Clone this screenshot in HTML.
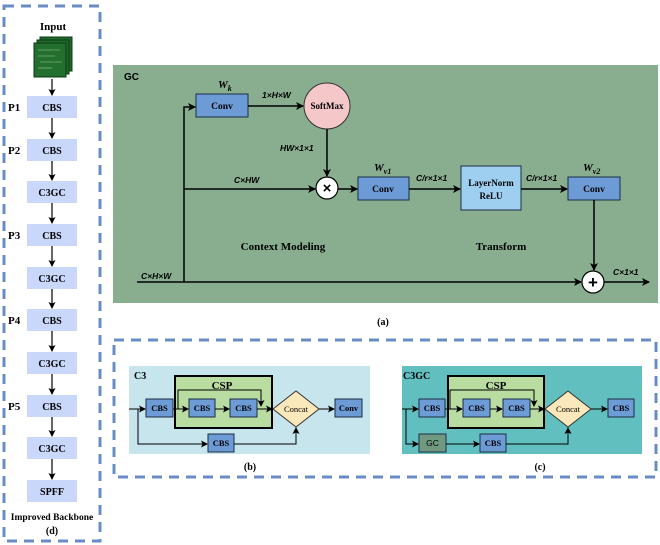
<!DOCTYPE html>
<html><head><meta charset="utf-8"><style>
html,body{margin:0;padding:0;background:#fff;}
svg{display:block;}
.t{font-family:"Liberation Serif",serif;font-weight:bold;}
.s{font-family:"Liberation Sans",sans-serif;font-weight:bold;font-style:italic;}
</style></head><body>
<svg width="660" height="545" viewBox="0 0 660 545" xmlns="http://www.w3.org/2000/svg">
<defs>
<marker id="a" markerWidth="8" markerHeight="8" refX="7" refY="4" orient="auto" markerUnits="userSpaceOnUse"><path d="M0,0 L8,4 L0,8 L2,4 Z" fill="#000"/></marker>
<marker id="b" markerWidth="7" markerHeight="7" refX="6" refY="3.5" orient="auto" markerUnits="userSpaceOnUse"><path d="M0,0 L7,3.5 L0,7 L1.5,3.5 Z" fill="#000"/></marker>
</defs>
<!-- Left backbone -->
<rect x="4" y="6" width="96" height="535" fill="none" stroke="#6a8cc6" stroke-width="3" stroke-dasharray="10,7"/>
<text x="53" y="30" class="t" font-size="11" text-anchor="middle">Input</text>
<rect x="40" y="37" width="32" height="34" fill="#1f6a2a" stroke="#0d3a14"/>
<rect x="37" y="40" width="32" height="34" fill="#1f6a2a" stroke="#0d3a14"/>
<rect x="34" y="43" width="32" height="34" fill="#236f2e" stroke="#0d3a14"/>
<g stroke="#9fd09a" stroke-width="0.6"><line x1="38" y1="50" x2="60" y2="50"/><line x1="38" y1="56" x2="55" y2="56"/><line x1="40" y1="62" x2="62" y2="62"/><line x1="38" y1="68" x2="52" y2="68"/></g>
<g fill="#c9d7fb">
<rect x="27" y="96" width="50" height="22"/><rect x="27" y="139" width="50" height="22"/><rect x="27" y="181" width="50" height="22"/><rect x="27" y="224" width="50" height="22"/><rect x="27" y="267" width="50" height="22"/><rect x="27" y="309" width="50" height="22"/><rect x="27" y="352" width="50" height="22"/><rect x="27" y="395" width="50" height="22"/><rect x="27" y="437" width="50" height="22"/><rect x="27" y="480" width="50" height="22"/>
</g>
<g class="t" font-size="10" text-anchor="middle">
<text x="52" y="111">CBS</text><text x="52" y="154">CBS</text><text x="52" y="196">C3GC</text><text x="52" y="239">CBS</text><text x="52" y="282">C3GC</text><text x="52" y="324">CBS</text><text x="52" y="367">C3GC</text><text x="52" y="410">CBS</text><text x="52" y="452">C3GC</text><text x="52" y="495">SPFF</text>
</g>
<g class="t" font-size="11"><text x="8" y="111">P1</text><text x="8" y="154">P2</text><text x="8" y="239">P3</text><text x="8" y="324">P4</text><text x="8" y="410">P5</text></g>
<g stroke="#000" stroke-width="1.2" marker-end="url(#b)">
<line x1="52" y1="79" x2="52" y2="95"/><line x1="52" y1="118" x2="52" y2="138"/><line x1="52" y1="161" x2="52" y2="180"/><line x1="52" y1="203" x2="52" y2="223"/><line x1="52" y1="246" x2="52" y2="266"/><line x1="52" y1="289" x2="52" y2="308"/><line x1="52" y1="331" x2="52" y2="351"/><line x1="52" y1="374" x2="52" y2="394"/><line x1="52" y1="417" x2="52" y2="436"/><line x1="52" y1="459" x2="52" y2="479"/>
</g>
<text x="52" y="520" class="t" font-size="9.5" text-anchor="middle">Improved Backbone</text>
<text x="52" y="534" class="t" font-size="10" text-anchor="middle">(d)</text>

<!-- GC panel -->
<rect x="113" y="65" width="545" height="238" fill="#88ae8f"/>
<text x="124" y="80" font-family="Liberation Sans,sans-serif" font-weight="bold" font-size="10">GC</text>
<rect x="196" y="94" width="52" height="23" fill="#6d9bd6" stroke="#1d2d44"/>
<text x="222" y="109" class="t" font-size="9.5" text-anchor="middle">Conv</text>
<text x="218" y="88" class="t" font-style="italic" font-size="11">W<tspan font-size="8" dy="3">k</tspan></text>
<circle cx="327" cy="106" r="23" fill="#f4c7c9" stroke="#333"/>
<text x="327" y="109" class="t" font-size="9" text-anchor="middle">SoftMax</text>
<circle cx="327" cy="188" r="11" fill="#fff" stroke="#000" stroke-width="1.2"/>
<text x="327" y="193" font-family="Liberation Sans,sans-serif" font-weight="bold" font-size="15" text-anchor="middle">×</text>
<rect x="358" y="177" width="51" height="23" fill="#6d9bd6" stroke="#1d2d44"/>
<text x="383" y="192" class="t" font-size="9.5" text-anchor="middle">Conv</text>
<text x="374" y="171" class="t" font-style="italic" font-size="11">W<tspan font-size="8" dy="3">v1</tspan></text>
<rect x="461" y="166" width="60" height="44" fill="#9fcff0" stroke="#1d2d44"/>
<text x="491" y="186" class="t" font-size="9" text-anchor="middle">LayerNorm</text>
<text x="491" y="199" class="t" font-size="9" text-anchor="middle">ReLU</text>
<rect x="568" y="177" width="52" height="23" fill="#6d9bd6" stroke="#1d2d44"/>
<text x="594" y="192" class="t" font-size="9.5" text-anchor="middle">Conv</text>
<text x="583" y="171" class="t" font-style="italic" font-size="11">W<tspan font-size="8" dy="3">v2</tspan></text>
<circle cx="593" cy="282" r="11" fill="#fff" stroke="#000" stroke-width="1.2"/>
<text x="593" y="288" font-family="Liberation Sans,sans-serif" font-weight="bold" font-size="17" text-anchor="middle">+</text>
<g stroke="#000" stroke-width="1.5" fill="none">
<polyline points="184,282 184,107 195,107" marker-end="url(#a)"/>
<line x1="248" y1="106" x2="303" y2="106" marker-end="url(#a)"/>
<line x1="327" y1="129" x2="327" y2="176" marker-end="url(#a)"/>
<line x1="184" y1="189" x2="315" y2="189" marker-end="url(#a)"/>
<line x1="338" y1="189" x2="357" y2="189" marker-end="url(#a)"/>
<line x1="409" y1="189" x2="460" y2="189" marker-end="url(#a)"/>
<line x1="521" y1="189" x2="567" y2="189" marker-end="url(#a)"/>
<line x1="594" y1="200" x2="594" y2="270" marker-end="url(#a)"/>
<line x1="137" y1="282" x2="581" y2="282" marker-end="url(#a)"/>
<line x1="604" y1="282" x2="649" y2="282" marker-end="url(#a)"/>
</g>
<g class="s" font-size="8.5">
<text x="262" y="98">1×H×W</text><text x="280" y="151">HW×1×1</text><text x="234" y="183">C×HW</text><text x="416" y="181">C/r×1×1</text><text x="526" y="181">C/r×1×1</text><text x="141" y="279">C×H×W</text><text x="613" y="275">C×1×1</text>
</g>
<text x="283" y="250" class="t" font-size="11" text-anchor="middle">Context Modeling</text>
<text x="501" y="250" class="t" font-size="11" text-anchor="middle">Transform</text>
<text x="383" y="325" class="t" font-size="10" text-anchor="middle">(a)</text>

<!-- bottom box -->
<rect x="114" y="340" width="542" height="137" fill="none" stroke="#6a8cc6" stroke-width="3" stroke-dasharray="10,7"/>
<!-- C3 -->
<rect x="129" y="366" width="241" height="88" fill="#c6e5ec"/>
<text x="134" y="379" class="t" font-size="10">C3</text>
<rect x="175" y="376" width="97" height="52" fill="#b9dca0" stroke="#000" stroke-width="2"/>
<text x="222" y="389" class="t" font-size="11" text-anchor="middle">CSP</text>
<!-- C3GC -->
<rect x="402" y="366" width="240" height="88" fill="#62bfc0"/>
<text x="403" y="379" class="t" font-size="10">C3GC</text>
<rect x="448" y="376" width="96" height="52" fill="#b9dca0" stroke="#000" stroke-width="2"/>
<text x="496" y="389" class="t" font-size="11" text-anchor="middle">CSP</text>
<g fill="#6d9bd6" stroke="#1d2d44">
<rect x="146" y="399" width="27" height="18"/><rect x="189" y="399" width="26" height="18"/><rect x="230" y="399" width="27" height="18"/><rect x="335" y="399" width="27" height="18"/><rect x="208" y="434" width="26" height="18"/>
<rect x="419" y="399" width="26" height="18"/><rect x="463" y="399" width="27" height="18"/><rect x="503" y="399" width="27" height="18"/><rect x="608" y="399" width="26" height="18"/><rect x="480" y="434" width="26" height="18"/>
</g>
<rect x="419" y="434" width="27" height="18" fill="#6f9a7f" stroke="#1d2d44"/>
<polygon points="273,409 296,391 319,409 296,427" fill="#fbe9bc" stroke="#333"/>
<polygon points="545,409 568,391 591,409 568,427" fill="#fbe9bc" stroke="#333"/>
<g font-family="Liberation Serif,serif" font-size="8.5" text-anchor="middle" font-weight="bold">
<text x="159.5" y="411">CBS</text><text x="202" y="411">CBS</text><text x="243.5" y="411">CBS</text><text x="348.5" y="411">Conv</text><text x="221" y="446">CBS</text>
<text x="432" y="411">CBS</text><text x="476.5" y="411">CBS</text><text x="516.5" y="411">CBS</text><text x="621" y="411">CBS</text><text x="493" y="446">CBS</text>
</g>
<text x="432.5" y="446" font-family="Liberation Sans,sans-serif" font-size="8.5" text-anchor="middle">GC</text>
<text x="296" y="412" font-family="Liberation Serif,serif" font-size="8.5" text-anchor="middle">Concat</text>
<text x="568" y="412" font-family="Liberation Serif,serif" font-size="8.5" text-anchor="middle">Concat</text>
<g stroke="#000" stroke-width="1" fill="none">
<line x1="129" y1="409" x2="145" y2="409" marker-end="url(#b)"/>
<line x1="173" y1="409" x2="188" y2="409" marker-end="url(#b)"/>
<line x1="215" y1="409" x2="229" y2="409" marker-end="url(#b)"/>
<line x1="257" y1="409" x2="272" y2="409" marker-end="url(#b)"/>
<polyline points="178,409 178,390 261,390 261,406" marker-end="url(#b)"/>
<line x1="319" y1="409" x2="334" y2="409" marker-end="url(#b)"/>
<polyline points="138,409 138,444 207,444" marker-end="url(#b)"/>
<polyline points="234,444 296,444 296,428" marker-end="url(#b)"/>
<line x1="402" y1="409" x2="418" y2="409" marker-end="url(#b)"/>
<line x1="445" y1="409" x2="462" y2="409" marker-end="url(#b)"/>
<line x1="490" y1="409" x2="502" y2="409" marker-end="url(#b)"/>
<line x1="530" y1="409" x2="544" y2="409" marker-end="url(#b)"/>
<polyline points="450,409 450,390 534,390 534,406" marker-end="url(#b)"/>
<line x1="591" y1="409" x2="607" y2="409" marker-end="url(#b)"/>
<polyline points="406,409 406,444 418,444" marker-end="url(#b)"/>
<line x1="446" y1="444" x2="479" y2="444" marker-end="url(#b)"/>
<polyline points="506,444 568,444 568,428" marker-end="url(#b)"/>
</g>
<text x="250" y="470" class="t" font-size="10" text-anchor="middle">(b)</text>
<text x="540" y="470" class="t" font-size="10" text-anchor="middle">(c)</text>
</svg>
</body></html>
